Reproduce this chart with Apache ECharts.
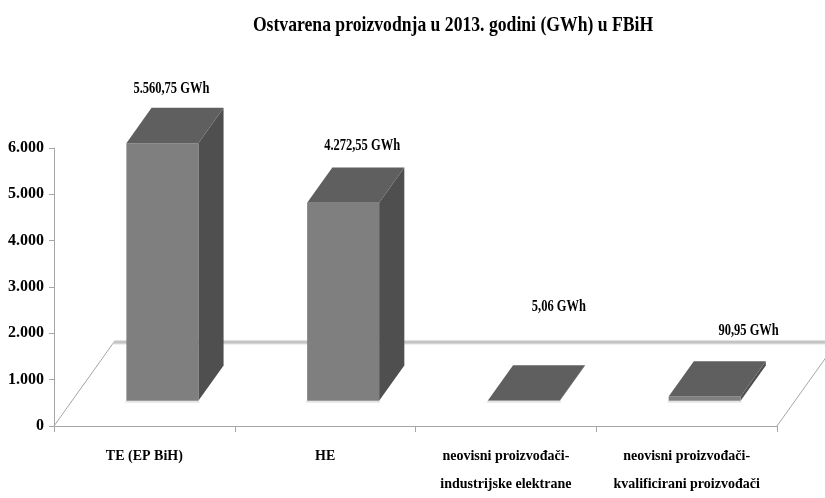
<!DOCTYPE html>
<html>
<head>
<meta charset="utf-8">
<script src="https://cdn.jsdelivr.net/npm/echarts@6/dist/echarts.min.js"></script>
<style>
html,body{margin:0;padding:0;background:#fff;}
#chart{width:825px;height:498px;}
</style>
</head>
<body>
<div id="chart"></div>
<script>
// ---- data ----
const titleText = 'Ostvarena proizvodnja u 2013. godini (GWh) u FBiH';
const categories = [
  'TE (EP BiH)',
  'HE',
  'neovisni proizvođači-\nindustrijske elektrane',
  'neovisni proizvođači-\nkvalificirani proizvođači'
];
const values = [5560.75, 4272.55, 5.06, 90.95];
const unit = 'GWh';
const yTickLabels = ['0', '1.000', '2.000', '3.000', '4.000', '5.000', '6.000'];

// ---- style (not data) ----
const labelOffsets = [[9, -54], [19, -57], [35, -94], [44, -66]];
const FLOOR_DX = 60, FLOOR_DY = -84;
const FRONT = 0.3, BACK = 0.72;
const BAR_W = 72;
const FONT = '"Liberation Serif", "Times New Roman", serif';

function fmt(v) {
  const parts = v.toFixed(2).split('.');
  const intPart = parts[0].replace(/\B(?=(\d{3})+(?!\d))/g, '.');
  return intPart + ',' + parts[1] + ' ' + unit;
}

const chart = echarts.init(document.getElementById('chart'), null, {renderer: 'canvas'});

const option = {
  backgroundColor: '#ffffff',
  animation: false,
  graphic: [{
    type: 'text',
    x: 453, y: 26,
    scaleX: 0.84, scaleY: 1,
    style: {
      text: titleText, fill: '#000', font: 'bold 21px ' + FONT,
      textAlign: 'center', textVerticalAlign: 'middle',
      align: 'center', verticalAlign: 'middle'
    }
  }],
  grid: {left: 54, right: 48, top: 148, bottom: 69},
  xAxis: {
    type: 'category',
    data: categories,
    axisLine: {lineStyle: {color: '#a6a6a6', width: 1}},
    axisTick: {show: true, length: 6, interval: 0, lineStyle: {color: '#a6a6a6'}},
    axisLabel: {
      interval: 0, margin: 16, color: '#000', fontFamily: FONT,
      fontWeight: 'bold', fontSize: 14, lineHeight: 28
    },
    splitLine: {show: false}
  },
  yAxis: {
    type: 'value',
    min: 0, max: 6000, interval: 1000,
    axisLine: {show: true, lineStyle: {color: '#a6a6a6'}},
    axisTick: {show: true, length: 5, lineStyle: {color: '#a6a6a6'}},
    splitLine: {show: false},
    axisLabel: {
      margin: 10, color: '#000', fontFamily: FONT, fontWeight: 'bold', fontSize: 16,
      formatter: function (v) { return yTickLabels[Math.round(v / 1000)]; }
    }
  },
  series: [
    {
      // floor outline
      type: 'custom',
      z: 1,
      silent: true,
      data: [[0, 0]],
      renderItem: function (params, api) {
        const cs = params.coordSys;
        const fl = [cs.x, cs.y + cs.height];
        const fr = [cs.x + cs.width, cs.y + cs.height];
        const bl = [fl[0] + FLOOR_DX, fl[1] + FLOOR_DY];
        const br = [fr[0] + FLOOR_DX, fr[1] + FLOOR_DY];
        return {
          type: 'group',
          children: [
            {type: 'line', shape: {x1: fl[0], y1: fl[1], x2: bl[0], y2: bl[1]},
             style: {stroke: '#a6a6a6', lineWidth: 1}},
            {type: 'line', shape: {x1: fr[0], y1: fr[1], x2: br[0], y2: br[1]},
             style: {stroke: '#a6a6a6', lineWidth: 1}},
            {type: 'line', shape: {x1: bl[0], y1: bl[1] + 1.5, x2: br[0], y2: br[1] + 1.5},
             style: {stroke: '#e2e2e2', lineWidth: 2}},
            {type: 'line', shape: {x1: bl[0], y1: bl[1], x2: br[0], y2: br[1]},
             style: {stroke: '#c4c4c4', lineWidth: 3}}
          ]
        };
      }
    },
    {
      type: 'custom',
      z: 2,
      data: values.map(function (v, i) { return [i, v]; }),
      encode: {x: 0, y: 1},
      renderItem: function (params, api) {
        const i = api.value(0);
        const v = api.value(1);
        const base = api.coord([i, 0]);
        const top = api.coord([i, v]);
        const h = base[1] - top[1];
        const x0 = base[0] + FLOOR_DX * FRONT - BAR_W / 2;
        const x1 = x0 + BAR_W;
        const yb = base[1] + FLOOR_DY * FRONT;
        const yt = yb - h;
        const ddx = FLOOR_DX * (BACK - FRONT);
        const ddy = FLOOR_DY * (BACK - FRONT);
        const off = labelOffsets[params.dataIndex];
        return {
          type: 'group',
          children: [
            {type: 'rect', shape: {x: x0 - 1, y: yb, width: BAR_W + 2, height: 2},
             style: {fill: '#e4e4e4'}},
            {type: 'polygon',
             shape: {points: [[x1, yt], [x1 + ddx, yt + ddy], [x1 + ddx, yb + ddy], [x1, yb]]},
             style: {fill: '#4f4f4f'}},
            {type: 'rect', shape: {x: x0, y: yt, width: BAR_W, height: h},
             style: {fill: '#7f7f7f'}},
            {type: 'polygon',
             shape: {points: [[x0, yt], [x1, yt], [x1 + ddx, yt + ddy], [x0 + ddx, yt + ddy]]},
             style: {fill: '#5f5f5f'}},
            {type: 'text',
             x: base[0] + FLOOR_DX * FRONT + off[0],
             y: yt + off[1],
             scaleX: 0.78, scaleY: 1,
             style: {
               text: fmt(v), fill: '#000', font: 'bold 16px ' + FONT,
               textAlign: 'center', textVerticalAlign: 'middle'
             }}
          ]
        };
      }
    }
  ]
};
chart.setOption(option);
</script>
</body>
</html>
